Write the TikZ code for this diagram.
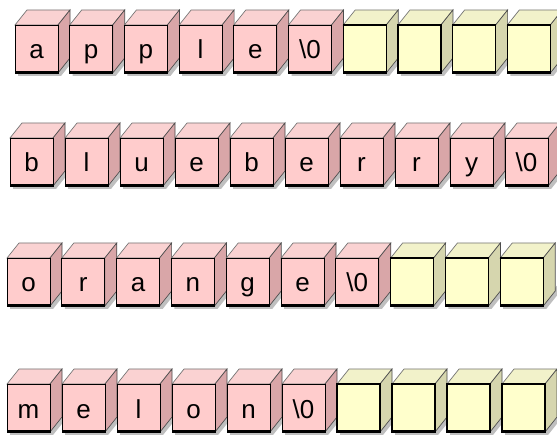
\documentclass[tikz,border=0pt]{standalone}
\usepackage{fontspec}
\setmainfont{Liberation Sans}

\definecolor{pinkfront}{HTML}{FFCCCC}
\definecolor{pinkside}{HTML}{D9A6A8}
\definecolor{pinktop}{HTML}{FAD2D2}
\definecolor{creamfront}{HTML}{FFFFCC}
\definecolor{creamside}{HTML}{D6D6AE}
\definecolor{creamtop}{HTML}{F2F2CA}

\tikzset{
  pinkF/.style={fill=pinkfront, draw=black, line width=0.9pt},
  pinkS/.style={fill=pinkside, draw=black!70, line width=0.7pt},
  pinkT/.style={fill=pinktop, draw=black!55, line width=0.7pt},
  creamF/.style={fill=creamfront, draw=black, line width=1.2pt},
  creamS/.style={fill=creamside, draw=black!70, line width=0.7pt},
  creamT/.style={fill=creamtop, draw=black!55, line width=0.7pt},
  letter/.style={anchor=base, inner sep=0pt, font=\fontsize{26}{26}\selectfont}
}

% #1 x, #2 y of the front's lower left corner, #3 colour, #4 name, #5 text
\newcommand{\block}[5]{%
  \fill[black!25] (#1+3,#2-3) -- ++(43,0) -- ++(12,15) -- ++(0,10) -- ++(-12,-15) -- ++(-43,0) -- cycle;
  \filldraw[#3T] (#1,#2+48) -- ++(12,15) -- ++(43,0) -- ++(-12,-15) -- cycle;
  \filldraw[#3S] (#1+43,#2) -- ++(12,15) -- ++(0,48) -- ++(-12,-15) -- cycle;
  \filldraw[#3F] (#1,#2) rectangle ++(43,48);
  \draw[line width=2.4pt] (#1,#2+1) -- ++(43,0);
  \node[letter] (#4) at (#1+21.5,#2+14) {#5};
}

\begin{document}
\begin{tikzpicture}[x=1pt, y=1pt]
  \useasboundingbox (0,0) rectangle (557,434);

  % 1. apple
  \foreach \ch [count=\i from 0] in {a,p,p,l,e,{\textbackslash0}}
    \block{15+\i*54.7}{361}{pink}{apple\i}{\ch};
  \foreach \i in {6,...,9}
    \block{15+\i*54.7}{361}{cream}{apple\i}{};

  % 2. blueberry
  \foreach \ch [count=\i from 0] in {b,l,u,e,b,e,r,r,y,{\textbackslash0}}
    \block{10+\i*55}{248}{pink}{blueberry\i}{\ch};

  % 3. orange
  \foreach \ch [count=\i from 0] in {o,r,a,n,g,e,{\textbackslash0}}
    \block{7+\i*54.8}{128}{pink}{orange\i}{\ch};
  \foreach \i in {7,...,9}
    \block{7+\i*54.8}{128}{cream}{orange\i}{};

  % 4. melon
  \foreach \ch [count=\i from 0] in {m,e,l,o,n,{\textbackslash0}}
    \block{7+\i*55}{2}{pink}{melon\i}{\ch};
  \foreach \i in {6,...,9}
    \block{7+\i*55}{2}{cream}{melon\i}{};

\end{tikzpicture}
\end{document}
